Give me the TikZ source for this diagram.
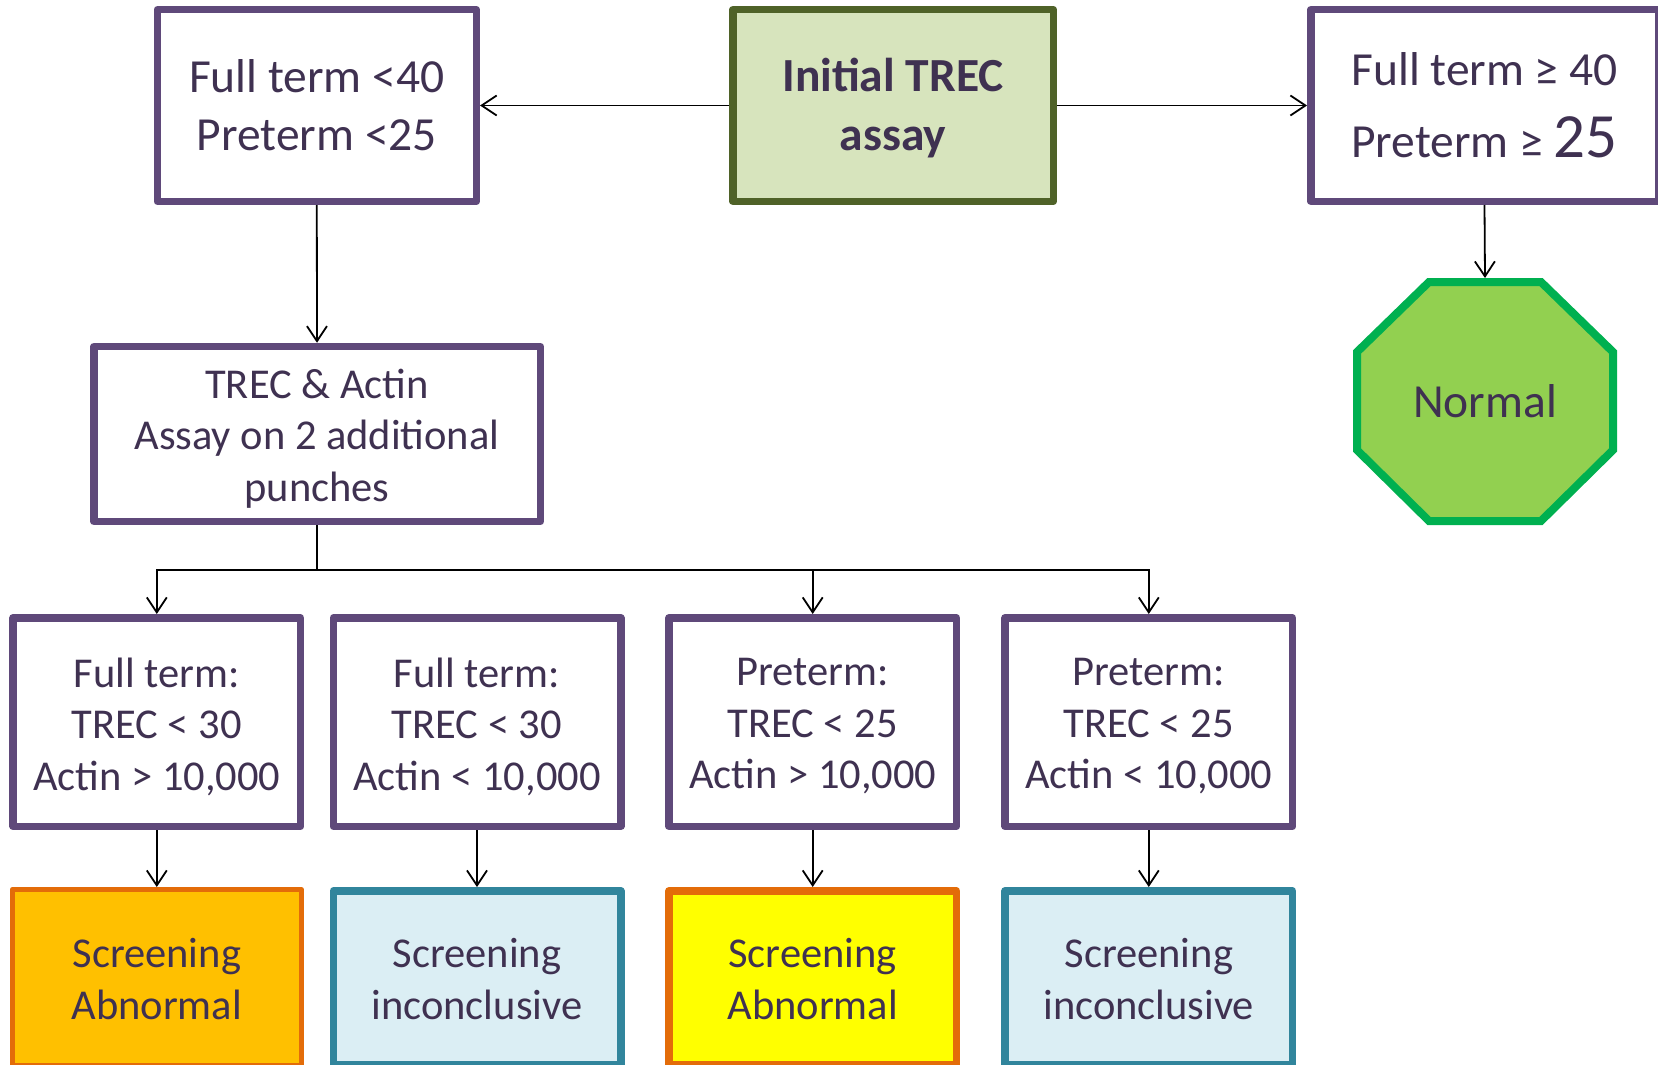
\documentclass[tikz,border=0pt]{standalone}
\usepackage{fontspec}
\setmainfont{Carlito}
\usetikzlibrary{arrows.meta}

\definecolor{boxpurple}{HTML}{5F497A}
\definecolor{txtpurple}{HTML}{3F3151}
\definecolor{startfill}{HTML}{D7E4BD}
\definecolor{startline}{HTML}{4F6228}
\definecolor{okfill}{HTML}{92D050}
\definecolor{okline}{HTML}{00B050}
\definecolor{abnfill}{HTML}{FFC000}
\definecolor{abnline}{HTML}{E36C09}
\definecolor{incfill}{HTML}{DBEEF4}
\definecolor{incline}{HTML}{31859C}
\definecolor{prefill}{HTML}{FFFF00}

\tikzset{
  basebox/.style={draw, line width=7.5pt, line join=round, inner sep=0pt, rectangle},
  pbox/.style={basebox, draw=boxpurple, fill=white},
  lbl/.style={text=txtpurple, align=center, inner sep=0pt},
  bigtxt/.style={lbl, font=\fontsize{47.5}{58}\selectfont},
  midtxt/.style={lbl, font=\fontsize{42.5}{51.5}\selectfont},
  rowbox/.style={pbox, minimum width=287.5pt, minimum height=208.5pt},
  endbox/.style={basebox, minimum width=287.5pt, minimum height=173.5pt},
  conn/.style={draw=black, line width=1.8pt,
    -{Straight Barb[length=15pt,width=20pt,line width=1.8pt]}},
  plainconn/.style={draw=black, line width=1.8pt},
}

\begin{document}
\begin{tikzpicture}[x=1pt, y=-1pt]
\useasboundingbox (0,0) rectangle (1658,1065);

% top row
\node[pbox, minimum width=319pt, minimum height=191.5pt] (low) at (316.8,105.5) {};
\node[bigtxt] at (low.center) {Full term <40\\Preterm <25};

\node[basebox, draw=startline, fill=startfill, minimum width=320.5pt,
  minimum height=191.5pt] (start) at (893,105.5) {};
\node[lbl, font=\fontsize{47.5}{59}\selectfont\bfseries]
  at ([yshift=-3pt]start.center) {Initial TREC\\assay};

\node[pbox, minimum width=347.5pt, minimum height=191.5pt] (high) at (1484.5,105.5) {};
\node[lbl, font=\fontsize{47.5}{72}\selectfont] at (high.center)
  {Full term ≥ 40\\Preterm ≥ {\fontsize{63}{72}\selectfont 25}};

% octagon outcome
\path[draw=okline, fill=okfill, line width=8pt, line join=miter]
  (1429,282) -- (1541,282) -- (1613,352) -- (1613,450) -- (1541,521)
  -- (1429,521) -- (1357,450) -- (1357,352) -- cycle;
\node[rectangle, inner sep=0pt, outer sep=0pt, minimum width=264pt,
  minimum height=247pt] (normal) at (1485,401.5) {};
\node[bigtxt] at (normal.center) {Normal};

% second assay
\node[pbox, minimum width=446.5pt, minimum height=175pt] (repeat) at (317,434) {};
\node[midtxt] at ([yshift=-4.5pt]repeat.center) {TREC \& Actin\\Assay on 2 additional\\punches};

% criteria row
\node[rowbox] (ftA) at (156.8,722) {};
\node[rowbox] (ftB) at (477,722) {};
\node[rowbox] (ptA) at (812.7,722) {};
\node[rowbox] (ptB) at (1148.8,722) {};
\node[midtxt] at ([yshift=-4.5pt]ftA.center) {Full term:\\TREC < 30\\Actin > 10,000};
\node[midtxt] at ([yshift=-4.5pt]ftB.center) {Full term:\\TREC < 30\\Actin < 10,000};
\node[midtxt] at ([yshift=-4.5pt]ptA.center) {Preterm:\\TREC < 25\\Actin > 10,000};
\node[midtxt] at ([yshift=-4.5pt]ptB.center) {Preterm:\\TREC < 25\\Actin < 10,000};

% outcome row
\node[basebox, draw=abnline, fill=abnfill, line width=5pt,
  minimum width=289pt, minimum height=176pt] (resA) at (156.8,977.5) {};
\node[endbox, draw=incline, fill=incfill] (resB) at (477,977.5) {};
\node[endbox, draw=abnline, fill=prefill] (resC) at (812.7,977.5) {};
\node[endbox, draw=incline, fill=incfill] (resD) at (1148.8,977.5) {};
\node[midtxt] at ([yshift=-1.5pt]resA.center) {Screening\\Abnormal};
\node[midtxt] at ([yshift=-1.5pt]resB.center) {Screening\\inconclusive};
\node[midtxt] at ([yshift=-1.5pt]resC.center) {Screening\\Abnormal};
\node[midtxt] at ([yshift=-1.5pt]resD.center) {Screening\\inconclusive};

% connectors
\draw[conn] (start.west) -- (low.east);
\draw[conn] (start.east) -- (high.west);
\draw[conn] (low.south) -- (repeat.north);
\draw[conn] (high.south) -- (normal.north);

\coordinate (split) at (317,570);
\draw[plainconn] (repeat.south) -- (split);
\draw[conn] (split) -| (ftA.north);
\draw[conn] (split) -| (ptA.north);
\draw[conn] (split) -| (ptB.north);

\draw[conn] (ftA.south) -- (resA.north);
\draw[conn] (ftB.south) -- (resB.north);
\draw[conn] (ptA.south) -- (resC.north);
\draw[conn] (ptB.south) -- (resD.north);
\end{tikzpicture}
\end{document}
